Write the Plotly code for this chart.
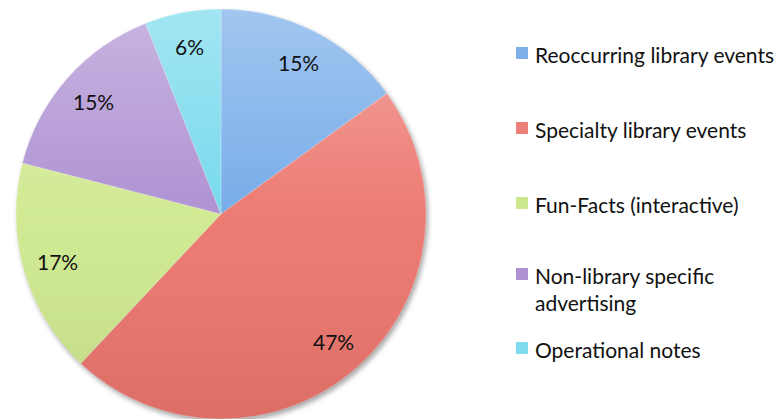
import math, base64
import plotly.graph_objects as go

# ---- data ----
categories = ["Reoccurring library events", "Specialty library events",
              "Fun-Facts (interactive)", "Non-library specific advertising",
              "Operational notes"]
legend_labels = ["Reoccurring library events", "Specialty library events",
                 "Fun-Facts (interactive)", "Non-library specific<br>advertising",
                 "Operational notes"]
values = [15, 47, 17, 15, 6]

# ---- style ----
colors = ["#72a9e8", "#ec766e", "#cfe98f", "#ac8ed1", "#72d8ec"]
legend_colors = ["#7fb0ea", "#ec8079", "#cde88c", "#ad92d2", "#7fdcee"]
W, H = 779, 419
CX, CY, R = 221, 214, 205          # pie centre / radius in pixels
FONT = "Lato, 'Open Sans', sans-serif"
legend_y = [53, 128, 203, 274, 348]  # legend square centres (px from top)
legend_sq_x = 516
legend_txt_x = 533
sq = 12

def px(x):
    return x / W

def py(y):
    return 1 - y / H

def svg_src(svg):
    return "data:image/svg+xml;base64," + base64.b64encode(svg.encode()).decode()

fig = go.Figure()
fig.add_trace(go.Pie(
    labels=categories, values=values, sort=False, direction="clockwise",
    rotation=0, textinfo="none", showlegend=False,
    marker=dict(colors=colors, line=dict(color="rgba(255,255,255,0.5)", width=0.5)),
    domain=dict(x=[px(CX - R), px(CX + R)], y=[py(CY + R), py(CY - R)]),
))

# percentage labels placed at ~0.83 R along each slice's mid-angle
total = sum(values)
cum = 0
annotations = []
for v in values:
    mid = (cum + v / 2) / total * 2 * math.pi
    cum += v
    x = CX + 0.83 * R * math.sin(mid)
    y = CY - 0.83 * R * math.cos(mid)
    annotations.append(dict(x=px(x), y=py(y), xref="paper", yref="paper",
                            text=f"{round(v / total * 100)}%", showarrow=False,
                            font=dict(family=FONT, size=21, color="#111111"),
                            xanchor="center", yanchor="middle"))

# custom legend
shapes = []
for lab, col, ly in zip(legend_labels, legend_colors, legend_y):
    shapes.append(dict(type="rect", xref="paper", yref="paper",
                       x0=px(legend_sq_x), x1=px(legend_sq_x + sq),
                       y0=py(ly + sq / 2), y1=py(ly - sq / 2),
                       fillcolor=col, line=dict(width=0)))
    annotations.append(dict(x=px(legend_txt_x), y=py(ly - 13), xref="paper", yref="paper",
                            text=lab, showarrow=False, align="left",
                            xanchor="left", yanchor="top",
                            font=dict(family=FONT, size=21, color="#111111")))

# shading over the pie (light top, darker bottom)
shade = (f"<svg xmlns='http://www.w3.org/2000/svg' width='{2*R}' height='{2*R}'>"
         "<defs><linearGradient id='g' x1='0' y1='0' x2='0' y2='1'>"
         "<stop offset='0' stop-color='white' stop-opacity='0.34'/>"
         "<stop offset='0.5' stop-color='white' stop-opacity='0.04'/>"
         "<stop offset='1' stop-color='black' stop-opacity='0.07'/>"
         "</linearGradient></defs>"
         f"<circle cx='{R}' cy='{R}' r='{R}' fill='url(#g)'/></svg>")
# soft drop shadow beneath the pie
P = 12
shadow = (f"<svg xmlns='http://www.w3.org/2000/svg' width='{2*R+2*P}' height='{2*R+2*P}'>"
          "<defs><filter id='b' x='-10%' y='-10%' width='120%' height='120%'>"
          "<feGaussianBlur stdDeviation='2.5'/></filter></defs>"
          f"<circle cx='{R+P+2}' cy='{R+P+3}' r='{R}' fill='black' fill-opacity='0.35' filter='url(#b)'/></svg>")

fig.update_layout(
    width=W, height=H, margin=dict(l=0, r=0, t=0, b=0),
    paper_bgcolor="white", plot_bgcolor="white",
    annotations=annotations, shapes=shapes,
    images=[
        dict(source=svg_src(shadow), xref="paper", yref="paper",
             x=px(CX - R - P), y=py(CY - R - P), sizex=px(2 * R + 2 * P), sizey=(2 * R + 2 * P) / H,
             sizing="stretch", xanchor="left", yanchor="top", layer="below"),
        dict(source=svg_src(shade), xref="paper", yref="paper",
             x=px(CX - R), y=py(CY - R), sizex=px(2 * R), sizey=2 * R / H,
             sizing="stretch", xanchor="left", yanchor="top", layer="above"),
    ],
)

fig.write_html("out.html", config={"displayModeBar": False},
               post_script="document.body.style.margin='0px';")
